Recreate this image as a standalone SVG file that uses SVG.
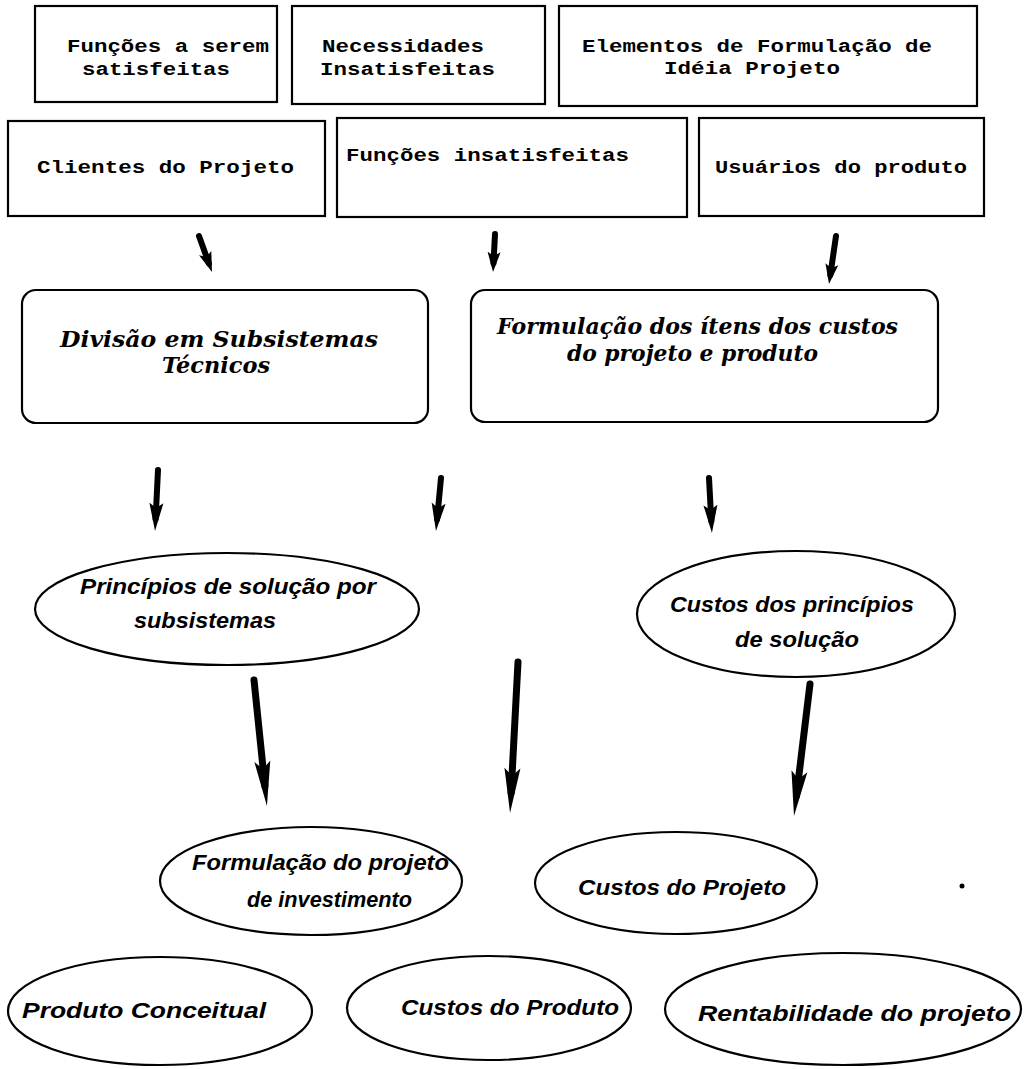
<svg xmlns="http://www.w3.org/2000/svg" width="1029" height="1069" viewBox="0 0 1029 1069">
<defs>
<style>
.box{fill:#fff;stroke:#000;stroke-width:2.2}
.mono{font-family:"Liberation Mono","Courier New",monospace;font-weight:bold;font-size:18px;fill:#000}
.ser{font-family:"DejaVu Serif","Liberation Serif",serif;font-style:italic;font-weight:bold;font-size:22px;fill:#000}
.sans{font-family:"Liberation Sans",Arial,sans-serif;font-style:italic;font-weight:bold;font-size:22px;fill:#000}
.arr{fill:none;stroke:#000;stroke-linecap:round}
.w6{stroke-width:6}
.w7{stroke-width:7}
</style>
<marker id="ahs" markerUnits="userSpaceOnUse" markerWidth="22" markerHeight="16" refX="11" refY="8" orient="auto" viewBox="0 0 22 16">
<path d="M0,1.5 L20,8 L0,14.5 L4,8 Z" fill="#000"/>
</marker>
<marker id="ahm" markerUnits="userSpaceOnUse" markerWidth="30" markerHeight="16" refX="16" refY="8" orient="auto" viewBox="0 0 30 16">
<path d="M0,1 L28,8 L0,15 L5,8 Z" fill="#000"/>
</marker>
<marker id="ahl" markerUnits="userSpaceOnUse" markerWidth="46" markerHeight="18" refX="25" refY="9" orient="auto" viewBox="0 0 46 18">
<path d="M0,1 L45,9 L0,17 L8,9 Z" fill="#000"/>
</marker>
</defs>

<g id="n1"><rect class="box" x="35" y="6" width="242" height="96"/>
<text class="mono" x="67" y="52" textLength="202" lengthAdjust="spacingAndGlyphs">Funções a serem</text>
<text class="mono" x="82" y="75" textLength="148" lengthAdjust="spacingAndGlyphs">satisfeitas</text></g>
<g id="n2"><rect class="box" x="292" y="6" width="253" height="98"/>
<text class="mono" x="322" y="52" textLength="162" lengthAdjust="spacingAndGlyphs">Necessidades</text>
<text class="mono" x="320" y="75" textLength="175" lengthAdjust="spacingAndGlyphs">Insatisfeitas</text></g>
<g id="n3"><rect class="box" x="559" y="6" width="418" height="100"/>
<text class="mono" x="582" y="52" textLength="350" lengthAdjust="spacingAndGlyphs">Elementos de Formulação de</text>
<text class="mono" x="664" y="74" textLength="176" lengthAdjust="spacingAndGlyphs">Idéia Projeto</text></g>
<g id="n4"><rect class="box" x="8" y="121" width="317" height="95"/>
<text class="mono" x="37" y="173" textLength="257" lengthAdjust="spacingAndGlyphs">Clientes do Projeto</text></g>
<g id="n5"><rect class="box" x="337" y="118" width="350" height="99"/>
<text class="mono" x="346" y="161" textLength="283" lengthAdjust="spacingAndGlyphs">Funções insatisfeitas</text></g>
<g id="n6"><rect class="box" x="699" y="118" width="285" height="98"/>
<text class="mono" x="715" y="173" textLength="252" lengthAdjust="spacingAndGlyphs">Usuários do produto</text></g>

<g id="n7"><rect class="box" x="22" y="290" width="406" height="133" rx="14"/>
<text class="ser" x="60" y="347" textLength="318" lengthAdjust="spacingAndGlyphs">Divisão em Subsistemas</text>
<text class="ser" x="162" y="373" textLength="108" lengthAdjust="spacingAndGlyphs">Técnicos</text></g>
<g id="n8"><rect class="box" x="471" y="290" width="467" height="132" rx="14"/>
<text class="ser" x="497" y="334" textLength="401" lengthAdjust="spacingAndGlyphs">Formulação dos ítens dos custos</text>
<text class="ser" x="567" y="361" textLength="251" lengthAdjust="spacingAndGlyphs">do projeto e produto</text></g>

<g id="n9"><ellipse class="box" cx="227" cy="609" rx="192" ry="56"/>
<text class="sans" x="80" y="594" textLength="296" lengthAdjust="spacingAndGlyphs">Princípios de solução por</text>
<text class="sans" x="134" y="628" textLength="142" lengthAdjust="spacingAndGlyphs">subsistemas</text></g>
<g id="n10"><ellipse class="box" cx="796" cy="614" rx="159" ry="63"/>
<text class="sans" x="670" y="612" textLength="244" lengthAdjust="spacingAndGlyphs">Custos dos princípios</text>
<text class="sans" x="735" y="647" textLength="124" lengthAdjust="spacingAndGlyphs">de solução</text></g>
<g id="n11"><ellipse class="box" cx="311" cy="881" rx="151" ry="54"/>
<text class="sans" x="192" y="870" textLength="257" lengthAdjust="spacingAndGlyphs">Formulação do projeto</text>
<text class="sans" x="247" y="907" textLength="165" lengthAdjust="spacingAndGlyphs">de investimento</text></g>
<g id="n12"><ellipse class="box" cx="676" cy="883" rx="141" ry="51"/>
<text class="sans" x="578" y="895" textLength="208" lengthAdjust="spacingAndGlyphs">Custos do Projeto</text></g>
<g id="n13"><ellipse class="box" cx="160" cy="1011" rx="152" ry="54"/>
<text class="sans" x="22" y="1018" textLength="244" lengthAdjust="spacingAndGlyphs">Produto Conceitual</text></g>
<g id="n14"><ellipse class="box" cx="489" cy="1008" rx="142" ry="52"/>
<text class="sans" x="401" y="1015" textLength="218" lengthAdjust="spacingAndGlyphs">Custos do Produto</text></g>
<g id="n15"><ellipse class="box" cx="843" cy="1009" rx="178" ry="56"/>
<text class="sans" x="698" y="1021" textLength="313" lengthAdjust="spacingAndGlyphs">Rentabilidade do projeto</text></g>

<circle cx="962" cy="886" r="2.5" fill="#000"/>

<g id="connectors">
<path class="arr w6" marker-end="url(#ahs)" d="M199,236 L208.9,263.5"/>
<path class="arr w6" marker-end="url(#ahs)" d="M495,234 L493.5,263"/>
<path class="arr w6" marker-end="url(#ahs)" d="M836,236 L830.3,275.1"/>
<path class="arr w6" marker-end="url(#ahm)" d="M158,470 L155.6,519"/>
<path class="arr w6" marker-end="url(#ahm)" d="M441,478 L437.1,519.1"/>
<path class="arr w6" marker-end="url(#ahm)" d="M709,478 L711.3,521"/>
<path class="arr w7" marker-end="url(#ahl)" d="M254,680 L264.9,786.1"/>
<path class="arr w7" marker-end="url(#ahl)" d="M518,662 L511.1,793"/>
<path class="arr w7" marker-end="url(#ahl)" d="M810,684 L796.4,796.1"/>
</g>
</svg>
